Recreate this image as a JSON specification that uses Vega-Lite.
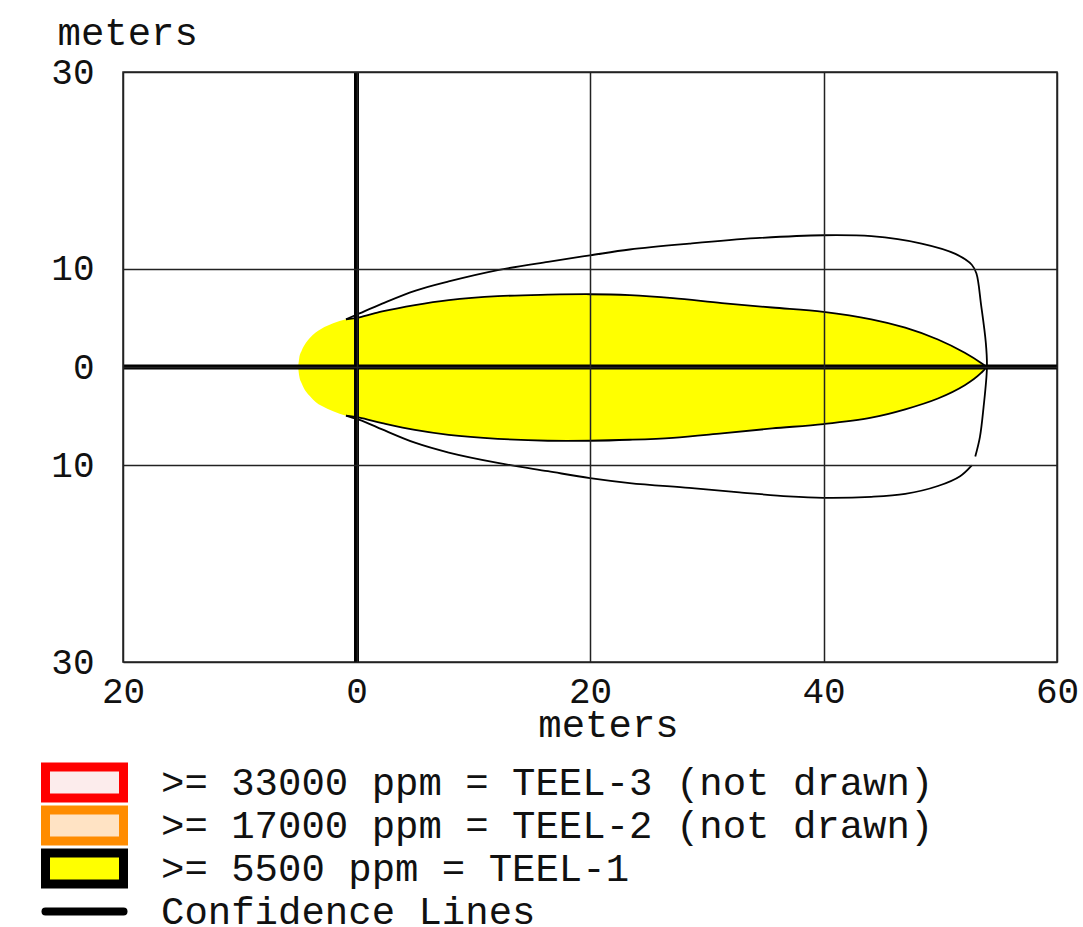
{
  "$schema": "https://vega.github.io/schema/vega-lite/v6.json",
  "width": 934,
  "height": 590,
  "autosize": {"type": "none"},
  "padding": {"left": 123, "top": 72, "right": 26, "bottom": 265},
  "background": "white",
  "config": {
    "font": "Liberation Mono",
    "view": {"stroke": "#222", "strokeWidth": 1.5}
  },
  "datasets": {
    "origin": [{"x0": 0, "y0": 0}],
    "teel1": [
      {"x": -5.0, "upper": 0, "lower": 0, "zone": ">= 5500 ppm = TEEL-1"},
      {"x": -4.9, "upper": 0.95, "lower": -0.95, "zone": ">= 5500 ppm = TEEL-1"},
      {"x": -4.7, "upper": 1.65, "lower": -1.65, "zone": ">= 5500 ppm = TEEL-1"},
      {"x": -4.33, "upper": 2.47, "lower": -2.5, "zone": ">= 5500 ppm = TEEL-1"},
      {"x": -4.0, "upper": 2.95, "lower": -2.95, "zone": ">= 5500 ppm = TEEL-1"},
      {"x": -3.5, "upper": 3.5, "lower": -3.55, "zone": ">= 5500 ppm = TEEL-1"},
      {"x": -3.0, "upper": 3.9, "lower": -3.95, "zone": ">= 5500 ppm = TEEL-1"},
      {"x": -2.0, "upper": 4.45, "lower": -4.5, "zone": ">= 5500 ppm = TEEL-1"},
      {"x": -0.9, "upper": 4.85, "lower": -4.95, "zone": ">= 5500 ppm = TEEL-1"},
      {"x": 0.25, "upper": 5.05, "lower": -5.15, "zone": ">= 5500 ppm = TEEL-1"},
      {"x": 2.2, "upper": 5.65, "lower": -5.7, "zone": ">= 5500 ppm = TEEL-1"},
      {"x": 5.0, "upper": 6.3, "lower": -6.4, "zone": ">= 5500 ppm = TEEL-1"},
      {"x": 7.9, "upper": 6.8, "lower": -6.9, "zone": ">= 5500 ppm = TEEL-1"},
      {"x": 12.1, "upper": 7.2, "lower": -7.3, "zone": ">= 5500 ppm = TEEL-1"},
      {"x": 16.4, "upper": 7.35, "lower": -7.5, "zone": ">= 5500 ppm = TEEL-1"},
      {"x": 20.0, "upper": 7.4, "lower": -7.5, "zone": ">= 5500 ppm = TEEL-1"},
      {"x": 23.4, "upper": 7.3, "lower": -7.4, "zone": ">= 5500 ppm = TEEL-1"},
      {"x": 27.1, "upper": 7.0, "lower": -7.2, "zone": ">= 5500 ppm = TEEL-1"},
      {"x": 31.3, "upper": 6.5, "lower": -6.75, "zone": ">= 5500 ppm = TEEL-1"},
      {"x": 35.6, "upper": 6.05, "lower": -6.25, "zone": ">= 5500 ppm = TEEL-1"},
      {"x": 40.0, "upper": 5.6, "lower": -5.8, "zone": ">= 5500 ppm = TEEL-1"},
      {"x": 44.1, "upper": 4.85, "lower": -5.15, "zone": ">= 5500 ppm = TEEL-1"},
      {"x": 47.0, "upper": 4.0, "lower": -4.3, "zone": ">= 5500 ppm = TEEL-1"},
      {"x": 49.8, "upper": 2.8, "lower": -3.2, "zone": ">= 5500 ppm = TEEL-1"},
      {"x": 52.1, "upper": 1.45, "lower": -1.85, "zone": ">= 5500 ppm = TEEL-1"},
      {"x": 53.5, "upper": 0.4, "lower": -0.6, "zone": ">= 5500 ppm = TEEL-1"},
      {"x": 53.9, "upper": 0, "lower": 0, "zone": ">= 5500 ppm = TEEL-1"}
    ],
    "lines": [
      {"series": "TEEL-1 edge", "seq": 1, "x": -0.9, "y": 4.85},
      {"series": "TEEL-1 edge", "seq": 2, "x": 0.25, "y": 5.05},
      {"series": "TEEL-1 edge", "seq": 3, "x": 2.2, "y": 5.65},
      {"series": "TEEL-1 edge", "seq": 4, "x": 5.0, "y": 6.3},
      {"series": "TEEL-1 edge", "seq": 5, "x": 7.9, "y": 6.8},
      {"series": "TEEL-1 edge", "seq": 6, "x": 12.1, "y": 7.2},
      {"series": "TEEL-1 edge", "seq": 7, "x": 16.4, "y": 7.35},
      {"series": "TEEL-1 edge", "seq": 8, "x": 20.0, "y": 7.4},
      {"series": "TEEL-1 edge", "seq": 9, "x": 23.4, "y": 7.3},
      {"series": "TEEL-1 edge", "seq": 10, "x": 27.1, "y": 7.0},
      {"series": "TEEL-1 edge", "seq": 11, "x": 31.3, "y": 6.5},
      {"series": "TEEL-1 edge", "seq": 12, "x": 35.6, "y": 6.05},
      {"series": "TEEL-1 edge", "seq": 13, "x": 40.0, "y": 5.6},
      {"series": "TEEL-1 edge", "seq": 14, "x": 44.1, "y": 4.85},
      {"series": "TEEL-1 edge", "seq": 15, "x": 47.0, "y": 4.0},
      {"series": "TEEL-1 edge", "seq": 16, "x": 49.8, "y": 2.8},
      {"series": "TEEL-1 edge", "seq": 17, "x": 52.1, "y": 1.45},
      {"series": "TEEL-1 edge", "seq": 18, "x": 53.5, "y": 0.4},
      {"series": "TEEL-1 edge", "seq": 19, "x": 53.9, "y": 0},
      {"series": "TEEL-1 edge", "seq": 20, "x": 53.5, "y": -0.6},
      {"series": "TEEL-1 edge", "seq": 21, "x": 52.1, "y": -1.85},
      {"series": "TEEL-1 edge", "seq": 22, "x": 49.8, "y": -3.2},
      {"series": "TEEL-1 edge", "seq": 23, "x": 47.0, "y": -4.3},
      {"series": "TEEL-1 edge", "seq": 24, "x": 44.1, "y": -5.15},
      {"series": "TEEL-1 edge", "seq": 25, "x": 40.0, "y": -5.8},
      {"series": "TEEL-1 edge", "seq": 26, "x": 35.6, "y": -6.25},
      {"series": "TEEL-1 edge", "seq": 27, "x": 31.3, "y": -6.75},
      {"series": "TEEL-1 edge", "seq": 28, "x": 27.1, "y": -7.2},
      {"series": "TEEL-1 edge", "seq": 29, "x": 23.4, "y": -7.4},
      {"series": "TEEL-1 edge", "seq": 30, "x": 20.0, "y": -7.5},
      {"series": "TEEL-1 edge", "seq": 31, "x": 16.4, "y": -7.5},
      {"series": "TEEL-1 edge", "seq": 32, "x": 12.1, "y": -7.3},
      {"series": "TEEL-1 edge", "seq": 33, "x": 7.9, "y": -6.9},
      {"series": "TEEL-1 edge", "seq": 34, "x": 5.0, "y": -6.4},
      {"series": "TEEL-1 edge", "seq": 35, "x": 2.2, "y": -5.7},
      {"series": "TEEL-1 edge", "seq": 36, "x": 0.25, "y": -5.15},
      {"series": "TEEL-1 edge", "seq": 37, "x": -0.9, "y": -4.95},
      {"series": "Confidence upper", "seq": 1, "x": -0.9, "y": 4.85},
      {"series": "Confidence upper", "seq": 2, "x": 0.25, "y": 5.45},
      {"series": "Confidence upper", "seq": 3, "x": 2.2, "y": 6.45},
      {"series": "Confidence upper", "seq": 4, "x": 5.0, "y": 7.75},
      {"series": "Confidence upper", "seq": 5, "x": 7.9, "y": 8.7},
      {"series": "Confidence upper", "seq": 6, "x": 12.1, "y": 9.85},
      {"series": "Confidence upper", "seq": 7, "x": 16.4, "y": 10.7},
      {"series": "Confidence upper", "seq": 8, "x": 20.0, "y": 11.35},
      {"series": "Confidence upper", "seq": 9, "x": 23.4, "y": 11.95},
      {"series": "Confidence upper", "seq": 10, "x": 28.5, "y": 12.55},
      {"series": "Confidence upper", "seq": 11, "x": 34.2, "y": 13.1},
      {"series": "Confidence upper", "seq": 12, "x": 40.0, "y": 13.4},
      {"series": "Confidence upper", "seq": 13, "x": 44.1, "y": 13.3},
      {"series": "Confidence upper", "seq": 14, "x": 48.4, "y": 12.55},
      {"series": "Confidence upper", "seq": 15, "x": 51.3, "y": 11.5},
      {"series": "Confidence upper", "seq": 16, "x": 52.7, "y": 10.4},
      {"series": "Confidence upper", "seq": 17, "x": 53.1, "y": 9.5},
      {"series": "Confidence upper", "seq": 18, "x": 53.5, "y": 6.3},
      {"series": "Confidence upper", "seq": 19, "x": 53.9, "y": 2.5},
      {"series": "Confidence upper", "seq": 20, "x": 54.0, "y": 0},
      {"series": "Confidence upper", "seq": 21, "x": 53.7, "y": -4.2},
      {"series": "Confidence upper", "seq": 22, "x": 53.4, "y": -7.1},
      {"series": "Confidence upper", "seq": 23, "x": 53.0, "y": -9.1},
      {"series": "Confidence lower", "seq": 1, "x": 52.7, "y": -10.0},
      {"series": "Confidence lower", "seq": 2, "x": 51.7, "y": -11.1},
      {"series": "Confidence lower", "seq": 3, "x": 49.8, "y": -12.1},
      {"series": "Confidence lower", "seq": 4, "x": 47.0, "y": -12.9},
      {"series": "Confidence lower", "seq": 5, "x": 44.1, "y": -13.2},
      {"series": "Confidence lower", "seq": 6, "x": 40.0, "y": -13.3},
      {"series": "Confidence lower", "seq": 7, "x": 37.0, "y": -13.15},
      {"series": "Confidence lower", "seq": 8, "x": 32.8, "y": -12.75},
      {"series": "Confidence lower", "seq": 9, "x": 28.5, "y": -12.3},
      {"series": "Confidence lower", "seq": 10, "x": 23.4, "y": -11.8},
      {"series": "Confidence lower", "seq": 11, "x": 20.0, "y": -11.3},
      {"series": "Confidence lower", "seq": 12, "x": 16.4, "y": -10.6},
      {"series": "Confidence lower", "seq": 13, "x": 12.1, "y": -9.75},
      {"series": "Confidence lower", "seq": 14, "x": 7.9, "y": -8.7},
      {"series": "Confidence lower", "seq": 15, "x": 5.0, "y": -7.7},
      {"series": "Confidence lower", "seq": 16, "x": 2.2, "y": -6.35},
      {"series": "Confidence lower", "seq": 17, "x": 0.75, "y": -5.6},
      {"series": "Confidence lower", "seq": 18, "x": -0.9, "y": -4.95}
    ]
  },
  "layer": [
    {
      "data": {"name": "teel1"},
      "mark": {"type": "area", "opacity": 1, "strokeWidth": 0, "interpolate": "monotone"},
      "encoding": {
        "x": {
          "field": "x",
          "type": "quantitative",
          "title": "meters",
          "scale": {"domain": [-20, 60], "nice": false, "zero": false},
          "axis": {
            "values": [-20, 0, 20, 40, 60],
            "labelExpr": "'' + abs(datum.value)",
            "ticks": false,
            "domain": false,
            "grid": true,
            "gridColor": "#222",
            "gridWidth": 1.5,
            "gridOpacity": 1,
            "labelFont": "Liberation Mono",
            "labelFontSize": 36,
            "labelColor": "#111",
            "labelBaseline": "alphabetic",
            "labelPadding": 40,
            "labelFlush": false,
            "labelOverlap": false,
            "titleFont": "Liberation Mono",
            "titleFontSize": 39,
            "titleFontWeight": "normal",
            "titleColor": "#111",
            "titleBaseline": "alphabetic",
            "titleAlign": "center",
            "titleX": 485,
            "titleY": 74,
            "zindex": 1
          }
        },
        "y": {
          "field": "upper",
          "type": "quantitative",
          "title": "meters",
          "scale": {"domain": [-30, 30], "nice": false, "zero": false},
          "axis": {
            "values": [-30, -10, 0, 10, 30],
            "labelExpr": "'' + abs(datum.value)",
            "ticks": false,
            "domain": false,
            "grid": true,
            "gridColor": "#222",
            "gridWidth": 1.5,
            "gridOpacity": 1,
            "labelFont": "Liberation Mono",
            "labelFontSize": 36,
            "labelColor": "#111",
            "labelAlign": "right",
            "labelBaseline": "middle",
            "labelPadding": 29,
            "labelFlush": false,
            "labelOverlap": false,
            "titleFont": "Liberation Mono",
            "titleFontSize": 39,
            "titleFontWeight": "normal",
            "titleColor": "#111",
            "titleAngle": 0,
            "titleAlign": "left",
            "titleBaseline": "alphabetic",
            "titleX": -66,
            "titleY": -28,
            "zindex": 1
          }
        },
        "y2": {"field": "lower"},
        "fill": {
          "field": "zone",
          "type": "nominal",
          "scale": {
            "domain": [">= 33000 ppm = TEEL-3 (not drawn)", ">= 17000 ppm = TEEL-2 (not drawn)", ">= 5500 ppm = TEEL-1", "Confidence Lines"],
            "range": ["#fcecec", "#ffe3c4", "#ffff00", "#000000"]
          },
          "legend": {
            "title": null,
            "orient": "none",
            "legendX": -82,
            "legendY": 689,
            "direction": "vertical",
            "padding": 0,
            "clipHeight": 43,
            "rowPadding": 0,
            "symbolOffset": 0,
            "symbolType": "M-1,-0.4H1V0.4H-1Z",
            "symbolSize": 6084,
            "symbolStrokeWidth": 9,
            "symbolOpacity": 1,
            "labelOffset": 33,
            "labelFont": "Liberation Mono",
            "labelFontSize": 39,
            "labelColor": "#111",
            "labelLimit": 2000,
            "labelBaseline": "middle",
            "encode": {
              "symbols": {
                "update": {
                  "stroke": {"signal": "(indexof(datum.value, 'TEEL-3') >= 0 ? '#ff0000' : (indexof(datum.value, 'TEEL-2') >= 0 ? '#ff8c00' : '#000000'))"},
                  "shape": {"signal": "(datum.value === 'Confidence Lines' ? 'M-1,0H1' : 'M-1,-0.4H1V0.4H-1Z')"},
                  "strokeWidth": {"signal": "(datum.value === 'Confidence Lines' ? 8 : 9)"},
                  "strokeCap": {"value": "round"}
                }
              }
            }
          }
        }
      }
    },
    {
      "data": {"name": "origin"},
      "mark": {"type": "rule", "color": "#000", "strokeWidth": 5},
      "encoding": {"x": {"field": "x0", "type": "quantitative"}}
    },
    {
      "data": {"name": "origin"},
      "mark": {"type": "rule", "color": "#000", "strokeWidth": 5},
      "encoding": {"y": {"field": "y0", "type": "quantitative"}}
    },
    {
      "data": {"name": "lines"},
      "mark": {"type": "line", "color": "#000", "strokeWidth": 1.8, "interpolate": "catmull-rom"},
      "encoding": {
        "x": {"field": "x", "type": "quantitative", "title": "meters"},
        "y": {"field": "y", "type": "quantitative", "title": "meters"},
        "detail": {"field": "series", "type": "nominal"},
        "order": {"field": "seq", "type": "quantitative"}
      }
    }
  ]
}
